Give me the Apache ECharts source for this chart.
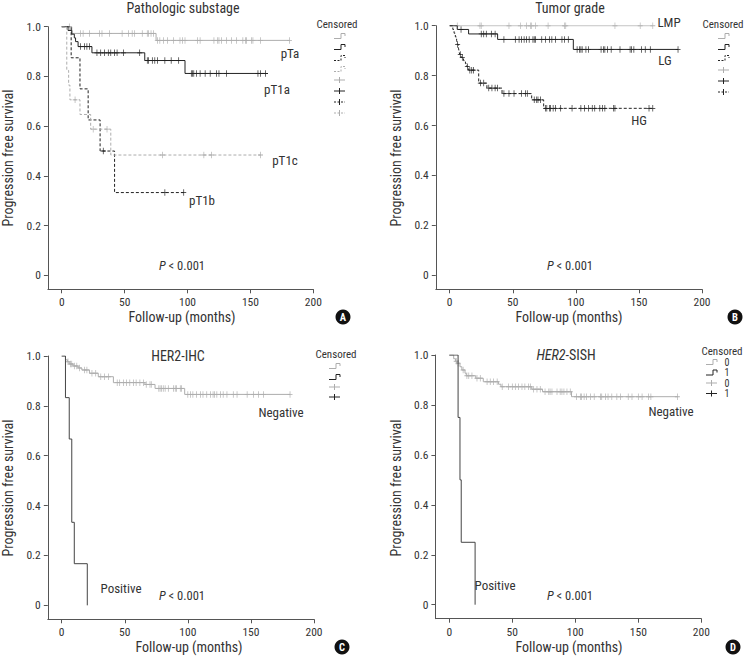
<!DOCTYPE html>
<html><head><meta charset="utf-8">
<script src="https://cdn.jsdelivr.net/npm/echarts@6/dist/echarts.min.js"></script>
<style>html,body{margin:0;padding:0;background:#fff}#c{width:744px;height:657px}</style>
</head><body><div id="c"></div>
<script>
// ---------- DATA ----------
const xTicks = [0, 50, 100, 150, 200];
const yTicks = [0, 0.2, 0.4, 0.6, 0.8, 1.0];

// Panel A: Pathologic substage  (events: [time, survival after event]; censored: times)
const A_pTa_events = [[8, 0.973], [75, 0.945]];
const A_pTa_cens = [6, 15, 17, 22, 30, 32, 38, 48, 53, 56, 58, 64, 68, 69, 71, 73, 76, 78, 81, 84, 89, 94, 96, 98, 108, 110, 121, 124, 125, 127, 131, 135, 139, 144, 146, 147, 151, 152, 158, 181];
const A_pT1a_events = [[5, 0.985], [8, 0.97], [10, 0.955], [11, 0.94], [13, 0.92], [24, 0.895], [66, 0.864], [98, 0.812]];
const A_pT1a_cens = [15, 18, 20, 22, 28, 31, 34, 37, 39, 42, 44, 49, 62, 68, 69, 72, 74, 76, 82, 87, 93, 103, 104, 105, 107, 110, 114, 118, 123, 125, 131, 156, 158, 162];
const A_pT1b_events = [[7.5, 0.875], [14.5, 0.75], [21, 0.625], [30.5, 0.5], [42, 0.333]];
const A_pT1b_cens = [33, 82, 97];
const A_pT1c_events = [[4, 0.824], [5.5, 0.765], [6.5, 0.706], [14.5, 0.647], [23, 0.588], [39, 0.484]];
const A_pT1c_cens = [10.6, 25, 36, 80, 113, 119, 158];

// Panel B: Tumor grade
const B_LMP_events = [];
const B_LMP_cens = [6, 24, 25, 47, 56, 61, 64, 65, 68, 78, 91, 92, 131, 151, 161];
const B_LG_events = [[6, 0.985], [15, 0.967], [38, 0.945], [98, 0.905]];
const B_LG_cens = [9, 25, 27, 29, 33, 36, 43, 52, 55, 57, 59, 61, 63, 66, 67, 68, 73, 76, 79, 81, 84, 89, 91, 94, 101, 103, 104, 105, 108, 110, 120, 122, 123, 125, 128, 135, 143, 144, 146, 152, 155, 159, 181];
const B_HG_events = [[2.5, 0.985], [3.5, 0.97], [4.5, 0.955], [5.5, 0.94], [6, 0.925], [7, 0.91], [7.5, 0.895], [8, 0.885], [9, 0.873], [11, 0.86], [12.5, 0.848], [13.5, 0.836], [15, 0.822], [23, 0.77], [29.5, 0.75], [41.5, 0.728], [65, 0.703], [74.5, 0.669]];
const B_HG_cens = [6.3, 8.4, 10, 14, 16, 17.5, 19, 24.3, 27, 31, 33.5, 36, 38, 43, 47, 51, 57, 60, 61.5, 67, 69, 70, 72, 76, 77, 79, 80, 82, 84, 88, 97, 104, 107, 110, 113, 115, 119, 121, 123, 130, 131, 158, 161];

// Panel C: HER2-IHC
const C_Neg_events = [[3, 0.985], [4.5, 0.977], [6, 0.968], [9, 0.96], [13, 0.952], [16, 0.944], [22, 0.931], [29, 0.917], [41, 0.893], [66, 0.886], [74, 0.87], [97.5, 0.846]];
const C_Neg_cens = [5, 7, 8, 10, 12, 14, 18, 20, 24, 27, 31, 34, 37, 44, 46, 49, 51.5, 54, 57, 59, 62, 65, 67, 70, 71, 77, 78, 79, 80.5, 82, 84.5, 88.5, 90, 91, 94, 95, 100, 102, 104, 107, 110, 112, 115, 118, 120, 121, 123, 126, 128, 131, 136, 139, 147, 152, 156, 160, 181];
const C_Pos_events = [[3, 0.833], [6, 0.667], [8, 0.333], [10, 0.167], [20.3, 0]];
const C_Pos_cens = [];

// Panel D: HER2-SISH
const D_Neg_events = [[3.5, 0.985], [5, 0.975], [6, 0.967], [8.5, 0.953], [10, 0.94], [12.5, 0.927], [13.5, 0.917], [21, 0.907], [27, 0.893], [39, 0.883], [41, 0.873], [65.5, 0.863], [74, 0.853], [97, 0.833]];
const D_Neg_cens = [5.5, 7, 11, 14, 15.5, 18, 22, 24.6, 30, 32.5, 35, 38, 42, 47, 50, 52.4, 55, 57.7, 60, 63, 64.3, 67, 69.6, 72.2, 76, 79, 80, 81.5, 85.5, 88, 89.4, 91, 93.4, 96, 101, 104, 105, 107, 109, 112, 115, 120, 121, 124, 126, 129, 133, 136, 142, 145, 150, 153, 158, 160, 181];
const D_Pos_events = [[7, 0.75], [8.5, 0.5], [9.5, 0.25], [20.5, 0]];
const D_Pos_cens = [];

// ---------- STYLE ----------
const FONT = '"Liberation Sans Narrow","Roboto Condensed","DejaVu Sans Condensed","Liberation Sans",sans-serif';
const TXT = '#333';
const AX = '#555';
const LGRAY = '#adadad';
const BLACK = '#222';
const DGRAY = '#444';
const DASH = [3, 2];
const PLUS = 'path://M2.6,0H3.4V2.6H6V3.4H3.4V6H2.6V3.4H0V2.6H2.6Z';

function kmLine(events, cens) {
  const pts = [[0, 1]];
  events.forEach(e => pts.push(e));
  const lastT = Math.max(0, ...cens, ...events.map(e => e[0]));
  const lastS = pts[pts.length - 1][1];
  if (lastT > pts[pts.length - 1][0]) pts.push([lastT, lastS]);
  return pts;
}
function survAt(events, t) { let s = 1; for (const e of events) if (e[0] <= t) s = e[1]; return s; }

const grids = [
  { left: 47.9, top: 26.7, width: 265.4, height: 262.6 },
  { left: 435.8, top: 25.7, width: 266.2, height: 263.6 },
  { left: 47.8, top: 356, width: 266.2, height: 263.3 },
  { left: 435.4, top: 355, width: 265.9, height: 263.7 }
];

const curves = [
  { g: 0, ev: A_pTa_events, cs: A_pTa_cens, color: LGRAY, dash: 'solid' },
  { g: 0, ev: A_pT1a_events, cs: A_pT1a_cens, color: BLACK, dash: 'solid' },
  { g: 0, ev: A_pT1b_events, cs: A_pT1b_cens, color: BLACK, dash: DASH },
  { g: 0, ev: A_pT1c_events, cs: A_pT1c_cens, color: LGRAY, dash: DASH },
  { g: 1, ev: B_LMP_events, cs: B_LMP_cens, color: '#b5b5b5', dash: 'solid' },
  { g: 1, ev: B_LG_events, cs: B_LG_cens, color: BLACK, dash: 'solid' },
  { g: 1, ev: B_HG_events, cs: B_HG_cens, color: BLACK, dash: DASH },
  { g: 2, ev: C_Neg_events, cs: C_Neg_cens, color: LGRAY, dash: 'solid' },
  { g: 2, ev: C_Pos_events, cs: C_Pos_cens, color: DGRAY, dash: 'solid' },
  { g: 3, ev: D_Neg_events, cs: D_Neg_cens, color: LGRAY, dash: 'solid' },
  { g: 3, ev: D_Pos_events, cs: D_Pos_cens, color: DGRAY, dash: 'solid' }
];

const series = [];
curves.forEach(c => {
  series.push({
    type: 'line', xAxisIndex: c.g, yAxisIndex: c.g, step: 'end', symbol: 'none', silent: true,
    lineStyle: { color: c.color, width: 1, type: c.dash }, data: kmLine(c.ev, c.cs)
  });
  if (c.cs.length) series.push({
    type: 'scatter', xAxisIndex: c.g, yAxisIndex: c.g, symbol: PLUS, symbolSize: [5, 6.5], silent: true,
    itemStyle: { color: c.color, opacity: 1 }, data: c.cs.map(t => [t, survAt(c.ev, t)])
  });
});

const labelStyle = { color: TXT, fontFamily: FONT, fontSize: 11.5 };
const xAxes = grids.map((g, i) => ({
  gridIndex: i, type: 'value', min: -11, max: 200,
  axisLine: { show: true, onZero: false, lineStyle: { color: AX, width: 1 } },
  axisTick: { show: true, length: 4, customValues: xTicks, lineStyle: { color: AX } },
  axisLabel: Object.assign({ customValues: xTicks, margin: 7 }, labelStyle),
  splitLine: { show: false }
}));
const yAxes = grids.map((g, i) => ({
  gridIndex: i, type: 'value', min: -0.056, max: 1.0,
  axisLine: { show: true, onZero: false, lineStyle: { color: AX, width: 1 } },
  axisTick: { show: true, length: 4, customValues: yTicks, lineStyle: { color: AX } },
  axisLabel: Object.assign({ customValues: yTicks, margin: 7, formatter: v => (Math.abs(v) < 1e-9 ? '0' : v.toFixed(1)) }, labelStyle),
  splitLine: { show: false }
}));

// ---------- DECORATION (texts, legends, badges) ----------
const G = [];
function txt(x, y, text, size, opt) {
  opt = opt || {};
  G.push({
    type: 'text', x: x, y: y, rotation: opt.rot || 0, silent: true,
    style: {
      text: text, fill: opt.fill || TXT, font: (opt.weight || 'normal') + ' ' + size + 'px ' + FONT,
      align: opt.align || 'center', verticalAlign: 'middle', textAlign: opt.align || 'center', textVerticalAlign: 'middle',
      rich: { i: { fontStyle: 'italic', fontSize: size, fontFamily: FONT, fill: opt.fill || TXT, color: opt.fill || TXT } }
    }
  });
}
function stepIcon(x, y, color, dash) {
  G.push({ type: 'polyline', silent: true, shape: { points: [[x, y + 2.5], [x + 7, y + 2.5], [x + 7, y - 2.5], [x + 11, y - 2.5], [x + 11, y]] },
    style: { stroke: color, lineWidth: 1, fill: null, lineDash: dash === 'solid' ? null : [2, 1.5] } });
}
function plusIcon(x, y, color, dash) {
  G.push({ type: 'line', silent: true, shape: { x1: x, y1: y, x2: x + 11, y2: y }, style: { stroke: color, lineWidth: 1, lineDash: dash === 'solid' ? null : [2, 1.5] } });
  G.push({ type: 'line', silent: true, shape: { x1: x + 5.5, y1: y - 3, x2: x + 5.5, y2: y + 3 }, style: { stroke: color, lineWidth: 1 } });
}
function badge(x, y, letter) {
  G.push({ type: 'circle', silent: true, shape: { cx: x, cy: y, r: 7.5 }, style: { fill: '#111' } });
  txt(x, y + 0.5, letter, 10.5, { fill: '#fff', weight: 'bold' });
}

// titles
txt(183, 8, 'Pathologic substage', 14);
txt(570, 8, 'Tumor grade', 14);
txt(178, 356, 'HER2-IHC', 14);
txt(566, 355, '{i|HER2}-SISH', 14);
// axis names
[[182, 317], [569, 317], [189, 647], [569, 647]].forEach(p => txt(p[0], p[1], 'Follow-up (months)', 14));
[[8, 158], [396, 158], [8, 488], [396, 488]].forEach(p => txt(p[0], p[1], 'Progression free survival', 14, { rot: Math.PI / 2 }));
// curve labels
txt(290, 53, 'pTa', 13); txt(277, 89, 'pT1a', 13); txt(285, 160, 'pT1c', 13); txt(202, 200, 'pT1b', 13);
txt(669, 22, 'LMP', 13); txt(665, 60, 'LG', 13); txt(639, 120, 'HG', 13);
txt(281, 412, 'Negative', 13); txt(121, 588, 'Positive', 13);
txt(671, 411, 'Negative', 13); txt(495, 585, 'Positive', 13);
// p values
txt(182, 265, '{i|P} < 0.001', 12.5); txt(570, 265, '{i|P} < 0.001', 12.5);
txt(182, 595, '{i|P} < 0.001', 12.5); txt(570, 595, '{i|P} < 0.001', 12.5);
// legends
txt(337, 24, 'Censored', 11);
stepIcon(334, 36, LGRAY, 'solid'); stepIcon(334, 47, BLACK, 'solid'); stepIcon(334, 58, BLACK, 'dash'); stepIcon(334, 69, LGRAY, 'dash');
plusIcon(334, 80, LGRAY, 'solid'); plusIcon(334, 91, BLACK, 'solid'); plusIcon(334, 102, BLACK, 'dash'); plusIcon(334, 113, LGRAY, 'dash');
txt(723, 24, 'Censored', 11);
stepIcon(718, 36, LGRAY, 'solid'); stepIcon(718, 47, BLACK, 'solid'); stepIcon(718, 58, BLACK, 'dash');
plusIcon(718, 70, LGRAY, 'solid'); plusIcon(718, 81, BLACK, 'solid'); plusIcon(718, 92, BLACK, 'dash');
txt(336, 354, 'Censored', 11);
stepIcon(329, 366, LGRAY, 'solid'); stepIcon(329, 377, BLACK, 'solid');
plusIcon(329, 387, LGRAY, 'solid'); plusIcon(329, 397, BLACK, 'solid');
txt(722, 351, 'Censored', 11);
const dLegY = [362, 372.5, 383, 393.5];
stepIcon(706, dLegY[0], LGRAY, 'solid'); stepIcon(706, dLegY[1], BLACK, 'solid');
plusIcon(706, dLegY[2], LGRAY, 'solid'); plusIcon(706, dLegY[3], BLACK, 'solid');
['0', '1', '0', '1'].forEach((s, i) => txt(727, dLegY[i], s, 10));
// panel badges
badge(343, 317, 'A'); badge(735, 317, 'B'); badge(342, 647, 'C'); badge(733, 647, 'D');

const chart = echarts.init(document.getElementById('c'), null, { renderer: 'svg', width: 744, height: 657 });
chart.setOption({
  animation: false, backgroundColor: '#fff',
  grid: grids, xAxis: xAxes, yAxis: yAxes, series: series, graphic: { elements: G }
});
</script></body></html>
